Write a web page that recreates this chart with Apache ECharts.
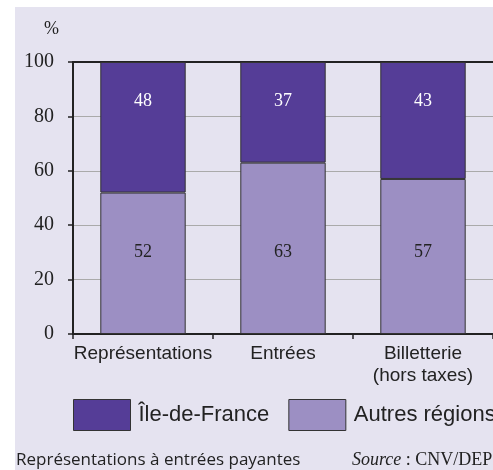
<!DOCTYPE html>
<html>
<head>
<meta charset="utf-8">
<script src="https://cdn.jsdelivr.net/npm/echarts@6/dist/echarts.min.js"></script>
<style>
html,body{margin:0;padding:0;background:#ffffff;width:493px;height:470px;overflow:hidden;}
#chart{position:absolute;left:15px;top:7px;width:478px;height:463px;background:#e5e3f0;}
</style>
</head>
<body>
<div id="chart"></div>
<script>
const categories = ['Représentations', 'Entrées', 'Billetterie\n(hors taxes)'];
const ileDeFrance = [48, 37, 43];
const autresRegions = [52, 63, 57];
const yTicks = [0, 20, 40, 60, 80, 100];
const seriesNames = ['Île-de-France', 'Autres régions'];

const chart = echarts.init(document.getElementById('chart'), null, {renderer: 'canvas'});
const dark = '#553d97';
const light = '#9c8fc3';
const serif = '"Liberation Serif", "DejaVu Serif", serif';
const sans = '"Liberation Sans", "DejaVu Sans", sans-serif';

chart.setOption({
  animation: false,
  grid: {left: 58, right: 0, top: 55, height: 272},
  legend: {
    left: 58, top: 392, padding: 0, width: 700,
    itemWidth: 57, itemHeight: 31, itemGap: 19,
    icon: 'rect',
    data: [seriesNames[0], seriesNames[1]],
    textStyle: {fontFamily: sans, fontSize: 22, color: '#222', padding: [0, 0, 0, 3]},
    itemStyle: {borderColor: '#333', borderWidth: 1}
  },
  xAxis: [{
    type: 'category',
    data: categories,
    position: 'bottom',
    axisLine: {lineStyle: {color: '#222', width: 2}},
    axisTick: {show: true, length: 5, lineStyle: {color: '#222', width: 1.5}},
    axisLabel: {interval: 0, fontFamily: sans, fontSize: 19, color: '#222', margin: 9, lineHeight: 22}
  }, {
    type: 'category',
    data: categories,
    position: 'top',
    axisLine: {show: true, lineStyle: {color: '#222', width: 2}},
    axisTick: {show: false},
    axisLabel: {show: false}
  }],
  yAxis: {
    type: 'value',
    min: yTicks[0], max: yTicks[yTicks.length - 1], interval: 20,
    axisLine: {show: true, lineStyle: {color: '#222', width: 2}},
    axisTick: {show: true, length: 5, lineStyle: {color: '#222', width: 1.5}},
    axisLabel: {fontFamily: serif, fontSize: 20, color: '#222', margin: 19},
    splitLine: {show: true, lineStyle: {color: '#aaaaaa', width: 1}}
  },
  graphic: [{
    type: 'text', left: 29, top: 13,
    style: {text: '%', fontFamily: serif, fontSize: 18, fill: '#222'}
  }, {
    type: 'text', left: 1, top: 445,
    style: {text: 'Représentations à entrées payantes', fontFamily: '"Open Sans", sans-serif', fontSize: 17, fill: '#222'}
  }, {
    type: 'text', left: 337, top: 444,
    style: {
      text: '{i|Source} : CNV/DEPS',
      fontFamily: serif, fontSize: 18, fill: '#222',
      rich: {i: {fontFamily: serif, fontStyle: 'italic', fontSize: 18, fill: '#222'}}
    }
  }],
  series: [{
    name: seriesNames[1],
    type: 'bar',
    stack: 'total',
    data: autresRegions,
    barWidth: '61%',
    itemStyle: {color: light, borderColor: '#333', borderWidth: 1},
    label: {show: true, position: 'insideBottom', distance: 73, fontFamily: serif, fontSize: 18, color: '#222'}
  }, {
    name: seriesNames[0],
    type: 'bar',
    stack: 'total',
    data: ileDeFrance,
    barWidth: '61%',
    itemStyle: {color: dark, borderColor: '#333', borderWidth: 1},
    label: {show: true, position: 'insideTop', distance: 30, fontFamily: serif, fontSize: 18, color: '#ffffff'}
  }]
});
</script>
</body>
</html>
